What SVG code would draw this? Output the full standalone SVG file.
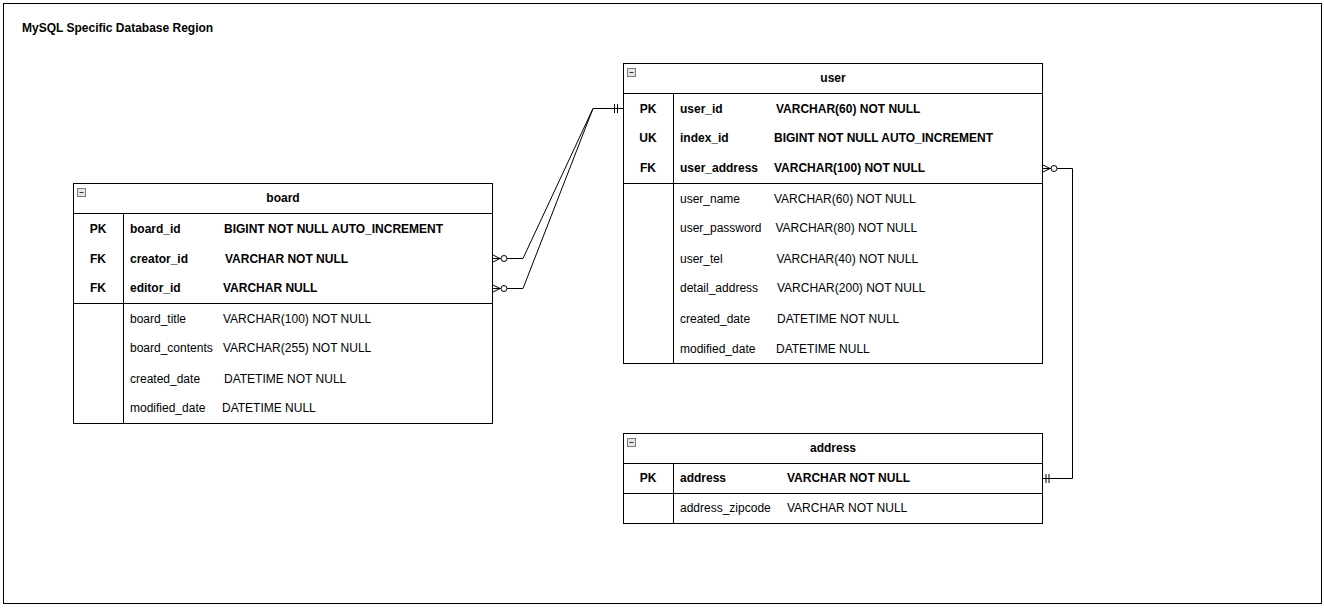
<svg xmlns="http://www.w3.org/2000/svg" width="1324" height="610" viewBox="0 0 1324 610">
<style>
text{font-family:"Liberation Sans",Arial,sans-serif;font-size:12px;fill:#000}
.b{font-weight:bold}
.c{text-anchor:middle}
.box{fill:#fff;stroke:#000;stroke-width:1}
.ln{stroke:#000;stroke-width:1;fill:none}
.icon{fill:#e6e6e6;stroke:#7a7a7a;stroke-width:1}
.icl{stroke:#333;stroke-width:1}
.edge{stroke:#000;stroke-width:1;fill:none}
.circ{fill:#fff;stroke:#000;stroke-width:1}
</style>
<rect x="0" y="0" width="1324" height="610" fill="#fff"/>
<g id="region">
<rect x="3.5" y="3.5" width="1318" height="600" class="box"/>
<text x="22" y="32" class="b">MySQL Specific Database Region</text>
</g>
<g id="board">
<rect x="73.5" y="183.5" width="419" height="240" class="box"/>
<line x1="73.5" y1="213.5" x2="492.5" y2="213.5" class="ln"/>
<line x1="73.5" y1="303.5" x2="492.5" y2="303.5" class="ln"/>
<line x1="123.5" y1="213.5" x2="123.5" y2="423.5" class="ln"/>
<rect x="77.5" y="188.5" width="8" height="8" class="icon"/>
<line x1="79.5" y1="192.5" x2="83.5" y2="192.5" class="icl"/>
<text x="283" y="202" class="b c">board</text>
<text x="98" y="233" class="b c">PK</text>
<text x="130" y="233" class="b">board_id</text>
<text x="224" y="233" class="b">BIGINT NOT NULL AUTO_INCREMENT</text>
<text x="98" y="262.5" class="b c">FK</text>
<text x="130" y="262.5" class="b">creator_id</text>
<text x="225" y="262.5" class="b">VARCHAR NOT NULL</text>
<text x="98" y="292" class="b c">FK</text>
<text x="130" y="292" class="b">editor_id</text>
<text x="223" y="292" class="b">VARCHAR NULL</text>
<text x="130" y="323">board_title</text>
<text x="223" y="323">VARCHAR(100) NOT NULL</text>
<text x="130" y="352">board_contents</text>
<text x="223" y="352">VARCHAR(255) NOT NULL</text>
<text x="130" y="382.5">created_date</text>
<text x="224" y="382.5">DATETIME NOT NULL</text>
<text x="130" y="412">modified_date</text>
<text x="222" y="412">DATETIME NULL</text>
</g>
<g id="user">
<rect x="623.5" y="63.5" width="419" height="300" class="box"/>
<line x1="623.5" y1="93.5" x2="1042.5" y2="93.5" class="ln"/>
<line x1="623.5" y1="183.5" x2="1042.5" y2="183.5" class="ln"/>
<line x1="673.5" y1="93.5" x2="673.5" y2="363.5" class="ln"/>
<rect x="627.5" y="68.5" width="8" height="8" class="icon"/>
<line x1="629.5" y1="72.5" x2="633.5" y2="72.5" class="icl"/>
<text x="833" y="82" class="b c">user</text>
<text x="648" y="113" class="b c">PK</text>
<text x="680" y="113" class="b">user_id</text>
<text x="776" y="113" class="b">VARCHAR(60) NOT NULL</text>
<text x="648" y="142" class="b c">UK</text>
<text x="680" y="142" class="b">index_id</text>
<text x="774" y="142" class="b">BIGINT NOT NULL AUTO_INCREMENT</text>
<text x="648" y="172" class="b c">FK</text>
<text x="680" y="172" class="b">user_address</text>
<text x="774" y="172" class="b">VARCHAR(100) NOT NULL</text>
<text x="680" y="203">user_name</text>
<text x="774" y="203">VARCHAR(60) NOT NULL</text>
<text x="680" y="232">user_password</text>
<text x="775.5" y="232">VARCHAR(80) NOT NULL</text>
<text x="680" y="262.5">user_tel</text>
<text x="776.5" y="262.5">VARCHAR(40) NOT NULL</text>
<text x="680" y="292">detail_address</text>
<text x="777" y="292">VARCHAR(200) NOT NULL</text>
<text x="680" y="323">created_date</text>
<text x="777" y="323">DATETIME NOT NULL</text>
<text x="680" y="353">modified_date</text>
<text x="776" y="353">DATETIME NULL</text>
</g>
<g id="address">
<rect x="623.5" y="433.5" width="419" height="90" class="box"/>
<line x1="623.5" y1="463.5" x2="1042.5" y2="463.5" class="ln"/>
<line x1="623.5" y1="493.5" x2="1042.5" y2="493.5" class="ln"/>
<line x1="673.5" y1="463.5" x2="673.5" y2="523.5" class="ln"/>
<rect x="627.5" y="438.5" width="8" height="8" class="icon"/>
<line x1="629.5" y1="442.5" x2="633.5" y2="442.5" class="icl"/>
<text x="833" y="452" class="b c">address</text>
<text x="648" y="482" class="b c">PK</text>
<text x="680" y="482" class="b">address</text>
<text x="787" y="482" class="b">VARCHAR NOT NULL</text>
<text x="680" y="512">address_zipcode</text>
<text x="787" y="512">VARCHAR NOT NULL</text>
</g>
<g id="connectors">
<path d="M623 108.5 L593 108.5 L523 258.5 L493 258.5" class="edge"/>
<path d="M593 108.5 L523 288.5 L493 288.5" class="edge"/>
<path d="M1043 168.5 L1072.5 168.5 L1072.5 478.5 L1043 478.5" class="edge"/>
<line x1="614.5" y1="104" x2="614.5" y2="113" class="edge"/>
<line x1="617.5" y1="104" x2="617.5" y2="113" class="edge"/>
<line x1="1046" y1="474" x2="1046" y2="483" class="edge"/>
<line x1="1049" y1="474" x2="1049" y2="483" class="edge"/>
<path d="M493 255 L500 258.5 L493 262" class="edge"/>
<circle cx="504" cy="258.5" r="3" class="circ"/>
<path d="M493 285 L500 288.5 L493 292" class="edge"/>
<circle cx="504" cy="288.5" r="3" class="circ"/>
<path d="M1043 165 L1050 168.5 L1043 172" class="edge"/>
<circle cx="1054" cy="168.5" r="3" class="circ"/>
</g>
</svg>
